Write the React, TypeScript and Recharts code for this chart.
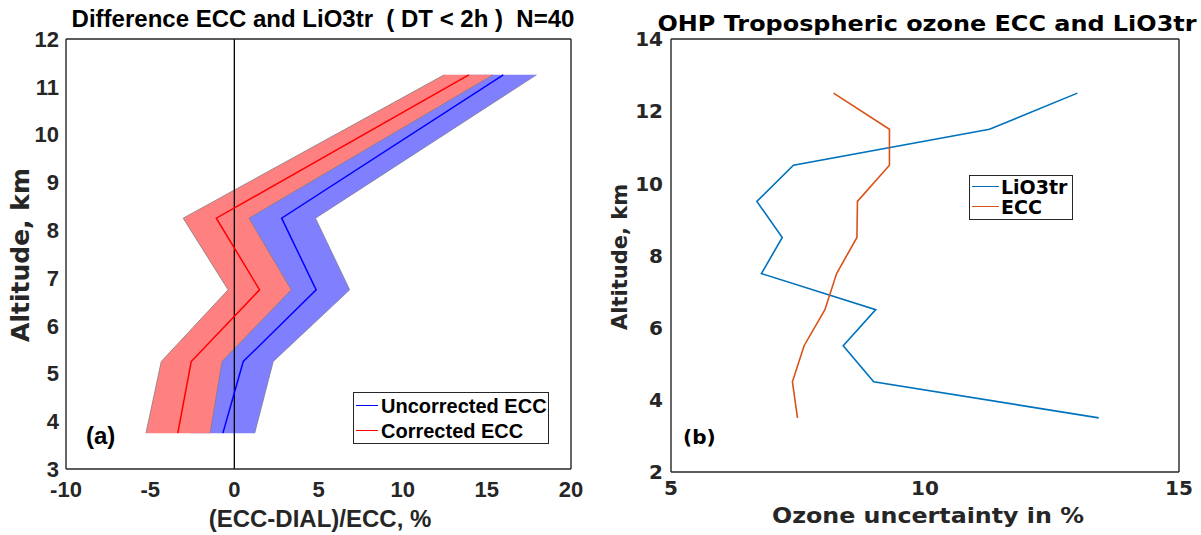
import React from 'react';
import { ComposedChart, Line, Area, XAxis, YAxis, ReferenceLine, Legend, Customized } from 'recharts';

// ---------- Panel (a) data ----------
const leftAltitude = [3.75, 5.25, 6.75, 8.25, 11.25];
const correctedMean = [-3.36, -2.56, 1.5, -1.07, 13.93];
const correctedLow = [-5.25, -4.34, -0.37, -3.04, 12.47];
const correctedHigh = [-1.44, -0.73, 3.38, 0.87, 15.37];
const uncorrectedMean = [-0.68, 0.53, 4.86, 2.81, 15.98];
const uncorrectedLow = [-2.57, -1.25, 2.87, 0.8, 14.0];
const uncorrectedHigh = [1.21, 2.31, 6.85, 4.82, 17.95];
const leftXTicks = [-10, -5, 0, 5, 10, 15, 20];
const leftYTicks = [3, 4, 5, 6, 7, 8, 9, 10, 11, 12];
const leftSeriesNames = ['Uncorrected ECC', 'Corrected ECC'];
const leftSeriesColors = ['#0000FF', '#FF0000'];

// ---------- Panel (b) data ----------
const rightAltitude = [3.5, 4.5, 5.5, 6.5, 7.5, 8.5, 9.5, 10.5, 11.5, 12.5];
const lio3trUncertainty = [13.42, 8.99, 8.39, 9.03, 6.78, 7.19, 6.69, 7.41, 11.27, 13.0];
const eccUncertainty = [7.49, 7.39, 7.62, 8.03, 8.26, 8.66, 8.67, 9.3, 9.3, 8.2];
const rightXTicks = [5, 10, 15];
const rightYTicks = [2, 4, 6, 8, 10, 12, 14];
const rightSeriesNames = ['LiO3tr', 'ECC'];
const rightSeriesColors = ['#0072BD', '#D95319'];

const leftData = leftAltitude.map((alt, i) => ({
  alt,
  corr: correctedMean[i],
  corrBand: [correctedLow[i], correctedHigh[i]],
  unc: uncorrectedMean[i],
  uncBand: [uncorrectedLow[i], uncorrectedHigh[i]],
}));

const rightData = rightAltitude.map((alt, i) => ({
  alt,
  lio: lio3trUncertainty[i],
  ecc: eccUncertainty[i],
}));

const AX = '#262626';
const LF = "'Liberation Sans', Arial, sans-serif";
const RF = "'DejaVu Sans', sans-serif";

const makeTick = (font: string, size: number, kind: 'x' | 'y') => (props: any) => (
  <text
    x={props.x}
    y={props.y}
    dy={kind === 'x' ? '0.72em' : '0.36em'}
    textAnchor={kind === 'x' ? 'middle' : 'end'}
    fontFamily={font}
    fontWeight="bold"
    fontSize={size}
    fill={AX}
  >
    {props.payload.value}
  </text>
);

const leftXTick = makeTick(LF, 22, 'x');
const leftYTick = makeTick(LF, 22, 'y');
const rightXTick = makeTick(RF, 20, 'x');
const rightYTick = makeTick(RF, 20, 'y');

const LeftTexts = () => (
  <g>
    <text x={323} y={27} textAnchor="middle" fontFamily={LF} fontWeight="bold" fontSize={24} fill="#000" style={{ whiteSpace: 'pre' }}>
      {'Difference ECC and LiO3tr  ( DT < 2h )  N=40'}
    </text>
    <text x={320} y={527} textAnchor="middle" fontFamily={LF} fontWeight="bold" fontSize={24} fill={AX}>
      (ECC-DIAL)/ECC, %
    </text>
    <text x={29} y={255} textAnchor="middle" fontFamily={RF} fontWeight="bold" fontSize={25} fill={AX} transform="rotate(-90 29 255)">
      Altitude, km
    </text>
    <text x={86} y={444} fontFamily={LF} fontWeight="bold" fontSize={24} fill="#000">
      (a)
    </text>
  </g>
);

const RightTexts = () => (
  <g>
    <text x={327} y={31} textAnchor="middle" fontFamily={RF} fontWeight="bold" fontSize={21} fill="#000" textLength={539} lengthAdjust="spacingAndGlyphs">
      OHP Tropospheric ozone ECC and LiO3tr
    </text>
    <text x={328} y={523} textAnchor="middle" fontFamily={RF} fontWeight="bold" fontSize={21} fill={AX} textLength={312} lengthAdjust="spacingAndGlyphs">
      Ozone uncertainty in %
    </text>
    <text x={27} y={257} textAnchor="middle" fontFamily={RF} fontWeight="bold" fontSize={21} fill={AX} transform="rotate(-90 27 257)">
      Altitude, km
    </text>
    <text x={83} y={444} fontFamily={RF} fontWeight="bold" fontSize={20} fill="#000">
      (b)
    </text>
  </g>
);

const makeLegend = (
  names: string[],
  colors: string[],
  opts: { w: number; h: number; rows: number[]; lineX: number; lineW: number; textX: number; font: string; size: number }
) => () => (
  <div
    style={{
      position: 'relative',
      width: opts.w,
      height: opts.h,
      boxSizing: 'border-box',
      border: `1.6px solid ${AX}`,
      background: '#fff',
    }}
  >
    {names.map((n, i) => (
      <div key={n}>
        <div
          style={{
            position: 'absolute',
            left: opts.lineX,
            top: opts.rows[i] - 1,
            width: opts.lineW,
            height: 0,
            borderTop: `1.8px solid ${colors[i]}`,
          }}
        />
        <div
          style={{
            position: 'absolute',
            left: opts.textX,
            top: opts.rows[i] - 12,
            height: 24,
            lineHeight: '24px',
            fontFamily: opts.font,
            fontWeight: 'bold',
            fontSize: opts.size,
            color: '#000',
            whiteSpace: 'nowrap',
          }}
        >
          {n}
        </div>
      </div>
    ))}
  </div>
);

const LeftLegend = makeLegend(leftSeriesNames, leftSeriesColors, {
  w: 196, h: 52, rows: [13, 38], lineX: 2, lineW: 22, textX: 27, font: LF, size: 20,
});
const RightLegend = makeLegend(rightSeriesNames, rightSeriesColors, {
  w: 104, h: 45, rows: [11, 31], lineX: 2, lineW: 27, textX: 31, font: RF, size: 19,
});

export default function App() {
  return (
    <div style={{ position: 'absolute', left: 0, top: 0, width: 1201, height: 535, background: '#fff' }}>
      <div style={{ position: 'absolute', left: 0, top: 0 }}>
        <ComposedChart layout="vertical" width={600} height={535} data={leftData} margin={{ top: 39, right: 29, bottom: 0, left: 0 }}>
          <XAxis xAxisId="x" type="number" domain={[-10, 20]} ticks={leftXTicks} height={66} allowDataOverflow tickLine={false} tickSize={6} tickMargin={6} axisLine={{ stroke: AX, strokeWidth: 1.4 }} tick={leftXTick} />
          <XAxis xAxisId="xb" type="number" domain={[-10, 20]} ticks={leftXTicks} mirror tick={false} tickSize={5} tickLine={{ stroke: AX, strokeWidth: 1.2 }} axisLine={false} />
          <XAxis xAxisId="xt" orientation="top" type="number" domain={[-10, 20]} ticks={leftXTicks} mirror tick={false} tickSize={5} tickLine={{ stroke: AX, strokeWidth: 1.2 }} axisLine={{ stroke: AX, strokeWidth: 1.4 }} />
          <YAxis yAxisId="y" type="number" dataKey="alt" domain={[3, 12]} ticks={leftYTicks} reversed width={66} allowDataOverflow tickLine={false} tickSize={0} tickMargin={7} axisLine={{ stroke: AX, strokeWidth: 1.4 }} tick={leftYTick} />
          <YAxis yAxisId="yl" type="number" domain={[3, 12]} ticks={leftYTicks} reversed mirror tick={false} tickSize={5} tickLine={{ stroke: AX, strokeWidth: 1.2 }} axisLine={false} />
          <YAxis yAxisId="yr" orientation="right" type="number" domain={[3, 12]} ticks={leftYTicks} reversed mirror tick={false} tickSize={5} tickLine={{ stroke: AX, strokeWidth: 1.2 }} axisLine={{ stroke: AX, strokeWidth: 1.4 }} />
          <Area xAxisId="x" yAxisId="y" type="linear" dataKey="uncBand" fill="#8080FF" fillOpacity={1} stroke="#7a7a9a" strokeWidth={0.8} dot={false} activeDot={false} legendType="none" isAnimationActive={false} />
          <Area xAxisId="x" yAxisId="y" type="linear" dataKey="corrBand" fill="#FF8080" fillOpacity={1} stroke="#8a7a7a" strokeWidth={0.8} dot={false} activeDot={false} legendType="none" isAnimationActive={false} />
          <ReferenceLine xAxisId="x" yAxisId="y" x={0} stroke="#000" strokeWidth={1.3} />
          <Line xAxisId="x" yAxisId="y" type="linear" dataKey="unc" name={leftSeriesNames[0]} stroke={leftSeriesColors[0]} strokeWidth={1.5} dot={false} activeDot={false} isAnimationActive={false} />
          <Line xAxisId="x" yAxisId="y" type="linear" dataKey="corr" name={leftSeriesNames[1]} stroke={leftSeriesColors[1]} strokeWidth={1.5} dot={false} activeDot={false} isAnimationActive={false} />
          <Legend layout="horizontal" verticalAlign="middle" align="center" content={LeftLegend} wrapperStyle={{ left: 353, top: 392, width: 196, height: 52 }} />
          <Customized component={LeftTexts} />
        </ComposedChart>
      </div>
      <div style={{ position: 'absolute', left: 600, top: 0 }}>
        <ComposedChart layout="vertical" width={601} height={535} data={rightData} margin={{ top: 39, right: 22, bottom: 0, left: 0 }}>
          <XAxis xAxisId="x" type="number" domain={[5, 15]} ticks={rightXTicks} height={63} allowDataOverflow tickLine={false} tickSize={6} tickMargin={3} axisLine={{ stroke: AX, strokeWidth: 1.4 }} tick={rightXTick} />
          <XAxis xAxisId="xb" type="number" domain={[5, 15]} ticks={rightXTicks} mirror tick={false} tickSize={5} tickLine={{ stroke: AX, strokeWidth: 1.2 }} axisLine={false} />
          <XAxis xAxisId="xt" orientation="top" type="number" domain={[5, 15]} ticks={rightXTicks} mirror tick={false} tickSize={5} tickLine={{ stroke: AX, strokeWidth: 1.2 }} axisLine={{ stroke: AX, strokeWidth: 1.4 }} />
          <YAxis yAxisId="y" type="number" dataKey="alt" domain={[2, 14]} ticks={rightYTicks} reversed width={71} allowDataOverflow tickLine={false} tickSize={0} tickMargin={8} axisLine={{ stroke: AX, strokeWidth: 1.4 }} tick={rightYTick} />
          <YAxis yAxisId="yl" type="number" domain={[2, 14]} ticks={rightYTicks} reversed mirror tick={false} tickSize={5} tickLine={{ stroke: AX, strokeWidth: 1.2 }} axisLine={false} />
          <YAxis yAxisId="yr" orientation="right" type="number" domain={[2, 14]} ticks={rightYTicks} reversed mirror tick={false} tickSize={5} tickLine={{ stroke: AX, strokeWidth: 1.2 }} axisLine={{ stroke: AX, strokeWidth: 1.4 }} />
          <Line xAxisId="x" yAxisId="y" type="linear" dataKey="lio" name={rightSeriesNames[0]} stroke={rightSeriesColors[0]} strokeWidth={1.6} dot={false} activeDot={false} isAnimationActive={false} />
          <Line xAxisId="x" yAxisId="y" type="linear" dataKey="ecc" name={rightSeriesNames[1]} stroke={rightSeriesColors[1]} strokeWidth={1.6} dot={false} activeDot={false} isAnimationActive={false} />
          <Legend layout="horizontal" verticalAlign="middle" align="center" content={RightLegend} wrapperStyle={{ left: 369, top: 175, width: 104, height: 45 }} />
          <Customized component={RightTexts} />
        </ComposedChart>
      </div>
    </div>
  );
}
